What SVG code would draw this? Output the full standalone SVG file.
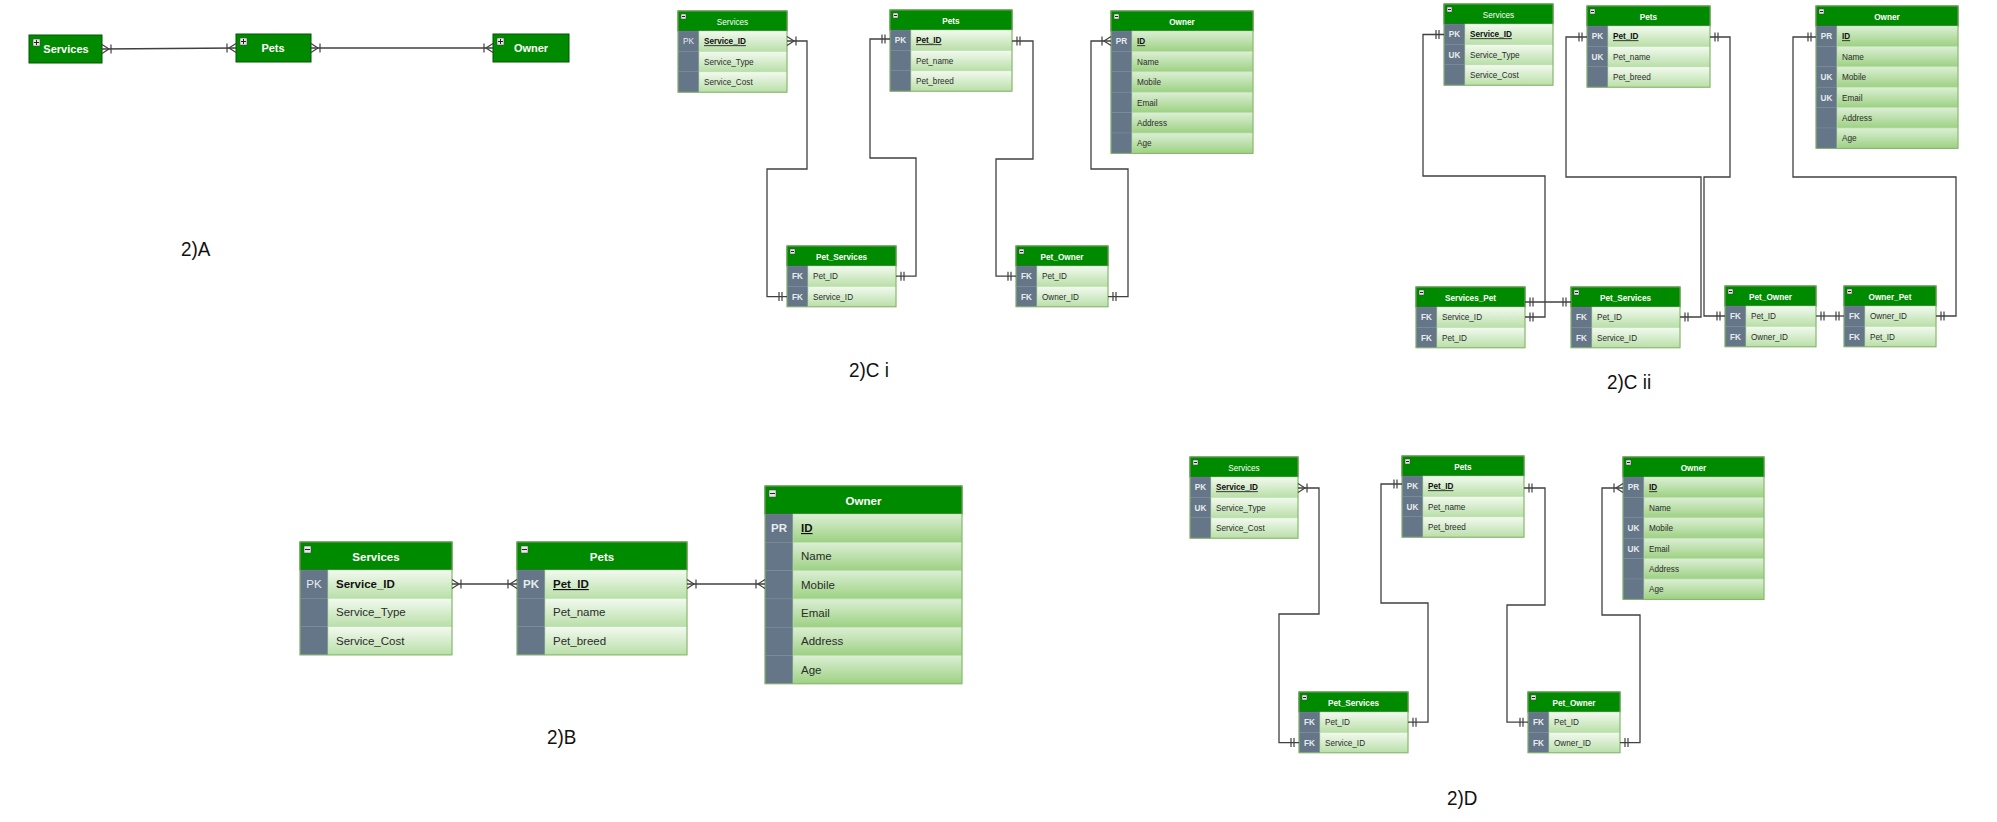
<svg xmlns="http://www.w3.org/2000/svg" width="1997" height="822" viewBox="0 0 1997 822">
<style>
text{font-family:"Liberation Sans",Arial,sans-serif}
.hd{fill:#008a00;stroke:#005700;stroke-width:1}
.ky{fill:#647687;stroke:#7b8a98;stroke-width:0.5}
.rw{fill:url(#gl);stroke:#b5dca4;stroke-width:0.6}
.ro{fill:url(#go);stroke:#b5dca4;stroke-width:0.6}
.ol{fill:none;stroke:#82b366;stroke-width:1}
.ic{fill:#e6e6e6;stroke:#444;stroke-width:0.5}
.im{stroke:#222;stroke-width:1;fill:none}
.s{font-size:8.2px}
.b{font-size:11.5px}
.ht{fill:#fff;font-weight:bold;text-anchor:middle}
.hn{fill:#fff;text-anchor:middle}
.kt{fill:#e8ecef;font-weight:bold;text-anchor:middle}
.kn{fill:#e8ecef;text-anchor:middle}
.ft{fill:#2b2b2b}
.pk{fill:#111;font-weight:bold;text-decoration:underline}
.bo{fill:#111;font-weight:bold}
.cn{fill:none;stroke:#404040;stroke-width:1.3}
.lb{font-size:21px;fill:#111}
.mk{fill:none;stroke:#404040;stroke-width:1.2}
</style>
<defs>
<linearGradient id="gl" x1="0" y1="0" x2="0" y2="1"><stop offset="0" stop-color="#f3faf0"/><stop offset="1" stop-color="#b9dfa8"/></linearGradient>
<linearGradient id="go" x1="0" y1="0" x2="0" y2="1"><stop offset="0" stop-color="#dcefd5"/><stop offset="1" stop-color="#9dd182"/></linearGradient>
<marker id="one" markerUnits="userSpaceOnUse" viewBox="-14 -7 16 14" markerWidth="16" markerHeight="14" refX="0" refY="0" orient="auto-start-reverse" overflow="visible"><path class="mk" d="M-5,-4.5V4.5M-8,-4.5V4.5"/></marker>
<marker id="many" markerUnits="userSpaceOnUse" viewBox="-14 -7 16 14" markerWidth="16" markerHeight="14" refX="0" refY="0" orient="auto-start-reverse" overflow="visible"><path class="mk" d="M0,-4.5L-7,0L0,4.5M-9,-4.5V4.5"/></marker>
</defs>
<rect width="1997" height="822" fill="#fff"/>

<!-- 2)A -->
<g id="a-services"><rect class="hd" x="29" y="35" width="73" height="28"/><rect class="ic" x="33" y="39" width="7" height="7"/><path class="im" d="M34,42.5H39M36.5,40V45"/><text class="ht" x="66" y="53" font-size="11">Services</text></g>
<g id="a-pets"><rect class="hd" x="236" y="34" width="75" height="28"/><rect class="ic" x="240" y="38" width="7" height="7"/><path class="im" d="M241,41.5H246M243.5,39V44"/><text class="ht" x="273" y="52" font-size="11">Pets</text></g>
<g id="a-owner"><rect class="hd" x="493" y="34" width="76" height="28"/><rect class="ic" x="497" y="38" width="7" height="7"/><path class="im" d="M498,41.5H503M500.5,39V44"/><text class="ht" x="531" y="52" font-size="11">Owner</text></g>

<!-- 2)C i -->
<g id="ci-services" transform="translate(678,11)">
<rect class="hd" width="109" height="20"/><rect class="ic" x="3" y="3" width="5" height="5"/><path class="im" d="M4,5.5H7"/><text class="hn s" x="54.5" y="13.5">Services</text>
<rect class="ky" y="20" width="21" height="20.4"/><rect class="rw" x="21" y="20" width="88" height="20.4"/><text class="kn s" x="10.5" y="33.3">PK</text><text class="pk s" x="26" y="33.3">Service_ID</text>
<rect class="ky" y="40.4" width="21" height="20.4"/><rect class="rw" x="21" y="40.4" width="88" height="20.4"/><text class="ft s" x="26" y="53.7">Service_Type</text>
<rect class="ky" y="60.8" width="21" height="20.4"/><rect class="rw" x="21" y="60.8" width="88" height="20.4"/><text class="ft s" x="26" y="74.1">Service_Cost</text>
<rect class="ol" width="109" height="81.2"/></g>
<g id="ci-pets" transform="translate(890,10)">
<rect class="hd" width="122" height="20"/><rect class="ic" x="3" y="3" width="5" height="5"/><path class="im" d="M4,5.5H7"/><text class="ht s" x="61" y="13.5">Pets</text>
<rect class="ky" y="20" width="21" height="20.4"/><rect class="rw" x="21" y="20" width="101" height="20.4"/><text class="kt s" x="10.5" y="33.3">PK</text><text class="pk s" x="26" y="33.3">Pet_ID</text>
<rect class="ky" y="40.4" width="21" height="20.4"/><rect class="rw" x="21" y="40.4" width="101" height="20.4"/><text class="ft s" x="26" y="53.7">Pet_name</text>
<rect class="ky" y="60.8" width="21" height="20.4"/><rect class="rw" x="21" y="60.8" width="101" height="20.4"/><text class="ft s" x="26" y="74.1">Pet_breed</text>
<rect class="ol" width="122" height="81.2"/></g>
<g id="ci-owner" transform="translate(1111,11)">
<rect class="hd" width="142" height="20"/><rect class="ic" x="3" y="3" width="5" height="5"/><path class="im" d="M4,5.5H7"/><text class="ht s" x="71" y="13.5">Owner</text>
<rect class="ky" y="20" width="21" height="20.4"/><rect class="ro" x="21" y="20" width="121" height="20.4"/><text class="kt s" x="10.5" y="33.3">PR</text><text class="pk s" x="26" y="33.3">ID</text>
<rect class="ky" y="40.4" width="21" height="20.4"/><rect class="ro" x="21" y="40.4" width="121" height="20.4"/><text class="ft s" x="26" y="53.7">Name</text>
<rect class="ky" y="60.8" width="21" height="20.4"/><rect class="ro" x="21" y="60.8" width="121" height="20.4"/><text class="ft s" x="26" y="74.1">Mobile</text>
<rect class="ky" y="81.2" width="21" height="20.4"/><rect class="ro" x="21" y="81.2" width="121" height="20.4"/><text class="ft s" x="26" y="94.5">Email</text>
<rect class="ky" y="101.6" width="21" height="20.4"/><rect class="ro" x="21" y="101.6" width="121" height="20.4"/><text class="ft s" x="26" y="114.9">Address</text>
<rect class="ky" y="122" width="21" height="20.4"/><rect class="ro" x="21" y="122" width="121" height="20.4"/><text class="ft s" x="26" y="135.3">Age</text>
<rect class="ol" width="142" height="142.4"/></g>
<g id="ci-pet-services" transform="translate(787,246)">
<rect class="hd" width="109" height="20"/><rect class="ic" x="3" y="3" width="5" height="5"/><path class="im" d="M4,5.5H7"/><text class="ht s" x="54.5" y="13.5">Pet_Services</text>
<rect class="ky" y="20" width="21" height="20.4"/><rect class="rw" x="21" y="20" width="88" height="20.4"/><text class="kt s" x="10.5" y="33.3">FK</text><text class="ft s" x="26" y="33.3">Pet_ID</text>
<rect class="ky" y="40.4" width="21" height="20.4"/><rect class="rw" x="21" y="40.4" width="88" height="20.4"/><text class="kt s" x="10.5" y="53.7">FK</text><text class="ft s" x="26" y="53.7">Service_ID</text>
<rect class="ol" width="109" height="60.8"/></g>
<g id="ci-pet-owner" transform="translate(1016,246)">
<rect class="hd" width="92" height="20"/><rect class="ic" x="3" y="3" width="5" height="5"/><path class="im" d="M4,5.5H7"/><text class="ht s" x="46" y="13.5">Pet_Owner</text>
<rect class="ky" y="20" width="21" height="20.4"/><rect class="rw" x="21" y="20" width="71" height="20.4"/><text class="kt s" x="10.5" y="33.3">FK</text><text class="ft s" x="26" y="33.3">Pet_ID</text>
<rect class="ky" y="40.4" width="21" height="20.4"/><rect class="rw" x="21" y="40.4" width="71" height="20.4"/><text class="kt s" x="10.5" y="53.7">FK</text><text class="ft s" x="26" y="53.7">Owner_ID</text>
<rect class="ol" width="92" height="60.8"/></g>

<!-- 2)C ii -->
<g id="cii-services" transform="translate(1444,4)">
<rect class="hd" width="109" height="20"/><rect class="ic" x="3" y="3" width="5" height="5"/><path class="im" d="M4,5.5H7"/><text class="hn s" x="54.5" y="13.5">Services</text>
<rect class="ky" y="20" width="21" height="20.4"/><rect class="rw" x="21" y="20" width="88" height="20.4"/><text class="kt s" x="10.5" y="33.3">PK</text><text class="pk s" x="26" y="33.3">Service_ID</text>
<rect class="ky" y="40.4" width="21" height="20.4"/><rect class="rw" x="21" y="40.4" width="88" height="20.4"/><text class="kt s" x="10.5" y="53.7">UK</text><text class="ft s" x="26" y="53.7">Service_Type</text>
<rect class="ky" y="60.8" width="21" height="20.4"/><rect class="rw" x="21" y="60.8" width="88" height="20.4"/><text class="ft s" x="26" y="74.1">Service_Cost</text>
<rect class="ol" width="109" height="81.2"/></g>
<g id="cii-pets" transform="translate(1587,6)">
<rect class="hd" width="123" height="20"/><rect class="ic" x="3" y="3" width="5" height="5"/><path class="im" d="M4,5.5H7"/><text class="ht s" x="61.5" y="13.5">Pets</text>
<rect class="ky" y="20" width="21" height="20.4"/><rect class="rw" x="21" y="20" width="102" height="20.4"/><text class="kt s" x="10.5" y="33.3">PK</text><text class="pk s" x="26" y="33.3">Pet_ID</text>
<rect class="ky" y="40.4" width="21" height="20.4"/><rect class="rw" x="21" y="40.4" width="102" height="20.4"/><text class="kt s" x="10.5" y="53.7">UK</text><text class="ft s" x="26" y="53.7">Pet_name</text>
<rect class="ky" y="60.8" width="21" height="20.4"/><rect class="rw" x="21" y="60.8" width="102" height="20.4"/><text class="ft s" x="26" y="74.1">Pet_breed</text>
<rect class="ol" width="123" height="81.2"/></g>
<g id="cii-owner" transform="translate(1816,6)">
<rect class="hd" width="142" height="20"/><rect class="ic" x="3" y="3" width="5" height="5"/><path class="im" d="M4,5.5H7"/><text class="ht s" x="71" y="13.5">Owner</text>
<rect class="ky" y="20" width="21" height="20.4"/><rect class="ro" x="21" y="20" width="121" height="20.4"/><text class="kt s" x="10.5" y="33.3">PR</text><text class="pk s" x="26" y="33.3">ID</text>
<rect class="ky" y="40.4" width="21" height="20.4"/><rect class="ro" x="21" y="40.4" width="121" height="20.4"/><text class="ft s" x="26" y="53.7">Name</text>
<rect class="ky" y="60.8" width="21" height="20.4"/><rect class="ro" x="21" y="60.8" width="121" height="20.4"/><text class="kt s" x="10.5" y="74.1">UK</text><text class="ft s" x="26" y="74.1">Mobile</text>
<rect class="ky" y="81.2" width="21" height="20.4"/><rect class="ro" x="21" y="81.2" width="121" height="20.4"/><text class="kt s" x="10.5" y="94.5">UK</text><text class="ft s" x="26" y="94.5">Email</text>
<rect class="ky" y="101.6" width="21" height="20.4"/><rect class="ro" x="21" y="101.6" width="121" height="20.4"/><text class="ft s" x="26" y="114.9">Address</text>
<rect class="ky" y="122" width="21" height="20.4"/><rect class="ro" x="21" y="122" width="121" height="20.4"/><text class="ft s" x="26" y="135.3">Age</text>
<rect class="ol" width="142" height="142.4"/></g>
<g id="cii-services-pet" transform="translate(1416,287)">
<rect class="hd" width="109" height="20"/><rect class="ic" x="3" y="3" width="5" height="5"/><path class="im" d="M4,5.5H7"/><text class="ht s" x="54.5" y="13.5">Services_Pet</text>
<rect class="ky" y="20" width="21" height="20.4"/><rect class="rw" x="21" y="20" width="88" height="20.4"/><text class="kt s" x="10.5" y="33.3">FK</text><text class="ft s" x="26" y="33.3">Service_ID</text>
<rect class="ky" y="40.4" width="21" height="20.4"/><rect class="rw" x="21" y="40.4" width="88" height="20.4"/><text class="kt s" x="10.5" y="53.7">FK</text><text class="ft s" x="26" y="53.7">Pet_ID</text>
<rect class="ol" width="109" height="60.8"/></g>
<g id="cii-pet-services" transform="translate(1571,287)">
<rect class="hd" width="109" height="20"/><rect class="ic" x="3" y="3" width="5" height="5"/><path class="im" d="M4,5.5H7"/><text class="ht s" x="54.5" y="13.5">Pet_Services</text>
<rect class="ky" y="20" width="21" height="20.4"/><rect class="rw" x="21" y="20" width="88" height="20.4"/><text class="kt s" x="10.5" y="33.3">FK</text><text class="ft s" x="26" y="33.3">Pet_ID</text>
<rect class="ky" y="40.4" width="21" height="20.4"/><rect class="rw" x="21" y="40.4" width="88" height="20.4"/><text class="kt s" x="10.5" y="53.7">FK</text><text class="ft s" x="26" y="53.7">Service_ID</text>
<rect class="ol" width="109" height="60.8"/></g>
<g id="cii-pet-owner" transform="translate(1725,286)">
<rect class="hd" width="91" height="20"/><rect class="ic" x="3" y="3" width="5" height="5"/><path class="im" d="M4,5.5H7"/><text class="ht s" x="45.5" y="13.5">Pet_Owner</text>
<rect class="ky" y="20" width="21" height="20.4"/><rect class="rw" x="21" y="20" width="70" height="20.4"/><text class="kt s" x="10.5" y="33.3">FK</text><text class="ft s" x="26" y="33.3">Pet_ID</text>
<rect class="ky" y="40.4" width="21" height="20.4"/><rect class="rw" x="21" y="40.4" width="70" height="20.4"/><text class="kt s" x="10.5" y="53.7">FK</text><text class="ft s" x="26" y="53.7">Owner_ID</text>
<rect class="ol" width="91" height="60.8"/></g>
<g id="cii-owner-pet" transform="translate(1844,286)">
<rect class="hd" width="92" height="20"/><rect class="ic" x="3" y="3" width="5" height="5"/><path class="im" d="M4,5.5H7"/><text class="ht s" x="46" y="13.5">Owner_Pet</text>
<rect class="ky" y="20" width="21" height="20.4"/><rect class="rw" x="21" y="20" width="71" height="20.4"/><text class="kt s" x="10.5" y="33.3">FK</text><text class="ft s" x="26" y="33.3">Owner_ID</text>
<rect class="ky" y="40.4" width="21" height="20.4"/><rect class="rw" x="21" y="40.4" width="71" height="20.4"/><text class="kt s" x="10.5" y="53.7">FK</text><text class="ft s" x="26" y="53.7">Pet_ID</text>
<rect class="ol" width="92" height="60.8"/></g>

<!-- 2)B -->
<g id="b-services" transform="translate(300,542)">
<rect class="hd" width="152" height="28"/><rect class="ic" x="4" y="4" width="7" height="7"/><path class="im" d="M5,7.5H10"/><text class="ht b" x="76" y="18.5">Services</text>
<rect class="ky" y="28" width="28" height="28.3"/><rect class="rw" x="28" y="28" width="124" height="28.3"/><text class="kn b" x="14" y="46">PK</text><text class="bo b" x="36" y="46">Service_ID</text>
<rect class="ky" y="56.3" width="28" height="28.3"/><rect class="rw" x="28" y="56.3" width="124" height="28.3"/><text class="ft b" x="36" y="74.3">Service_Type</text>
<rect class="ky" y="84.6" width="28" height="28.3"/><rect class="rw" x="28" y="84.6" width="124" height="28.3"/><text class="ft b" x="36" y="102.6">Service_Cost</text>
<rect class="ol" width="152" height="112.9"/></g>
<g id="b-pets" transform="translate(517,542)">
<rect class="hd" width="170" height="28"/><rect class="ic" x="4" y="4" width="7" height="7"/><path class="im" d="M5,7.5H10"/><text class="ht b" x="85" y="18.5">Pets</text>
<rect class="ky" y="28" width="28" height="28.3"/><rect class="rw" x="28" y="28" width="142" height="28.3"/><text class="kt b" x="14" y="46">PK</text><text class="pk b" x="36" y="46">Pet_ID</text>
<rect class="ky" y="56.3" width="28" height="28.3"/><rect class="rw" x="28" y="56.3" width="142" height="28.3"/><text class="ft b" x="36" y="74.3">Pet_name</text>
<rect class="ky" y="84.6" width="28" height="28.3"/><rect class="rw" x="28" y="84.6" width="142" height="28.3"/><text class="ft b" x="36" y="102.6">Pet_breed</text>
<rect class="ol" width="170" height="112.9"/></g>
<g id="b-owner" transform="translate(765,486)">
<rect class="hd" width="197" height="28"/><rect class="ic" x="4" y="4" width="7" height="7"/><path class="im" d="M5,7.5H10"/><text class="ht b" x="98.5" y="18.5">Owner</text>
<rect class="ky" y="28" width="28" height="28.3"/><rect class="ro" x="28" y="28" width="169" height="28.3"/><text class="kt b" x="14" y="46">PR</text><text class="pk b" x="36" y="46">ID</text>
<rect class="ky" y="56.3" width="28" height="28.3"/><rect class="ro" x="28" y="56.3" width="169" height="28.3"/><text class="ft b" x="36" y="74.3">Name</text>
<rect class="ky" y="84.6" width="28" height="28.3"/><rect class="ro" x="28" y="84.6" width="169" height="28.3"/><text class="ft b" x="36" y="102.6">Mobile</text>
<rect class="ky" y="112.9" width="28" height="28.3"/><rect class="ro" x="28" y="112.9" width="169" height="28.3"/><text class="ft b" x="36" y="130.9">Email</text>
<rect class="ky" y="141.2" width="28" height="28.3"/><rect class="ro" x="28" y="141.2" width="169" height="28.3"/><text class="ft b" x="36" y="159.2">Address</text>
<rect class="ky" y="169.5" width="28" height="28.3"/><rect class="ro" x="28" y="169.5" width="169" height="28.3"/><text class="ft b" x="36" y="187.5">Age</text>
<rect class="ol" width="197" height="197.8"/></g>

<!-- 2)D -->
<g id="d-services" transform="translate(1190,457)">
<rect class="hd" width="108" height="20"/><rect class="ic" x="3" y="3" width="5" height="5"/><path class="im" d="M4,5.5H7"/><text class="hn s" x="54" y="13.5">Services</text>
<rect class="ky" y="20" width="21" height="20.4"/><rect class="rw" x="21" y="20" width="87" height="20.4"/><text class="kt s" x="10.5" y="33.3">PK</text><text class="pk s" x="26" y="33.3">Service_ID</text>
<rect class="ky" y="40.4" width="21" height="20.4"/><rect class="rw" x="21" y="40.4" width="87" height="20.4"/><text class="kt s" x="10.5" y="53.7">UK</text><text class="ft s" x="26" y="53.7">Service_Type</text>
<rect class="ky" y="60.8" width="21" height="20.4"/><rect class="rw" x="21" y="60.8" width="87" height="20.4"/><text class="ft s" x="26" y="74.1">Service_Cost</text>
<rect class="ol" width="108" height="81.2"/></g>
<g id="d-pets" transform="translate(1402,456)">
<rect class="hd" width="122" height="20"/><rect class="ic" x="3" y="3" width="5" height="5"/><path class="im" d="M4,5.5H7"/><text class="ht s" x="61" y="13.5">Pets</text>
<rect class="ky" y="20" width="21" height="20.4"/><rect class="rw" x="21" y="20" width="101" height="20.4"/><text class="kt s" x="10.5" y="33.3">PK</text><text class="pk s" x="26" y="33.3">Pet_ID</text>
<rect class="ky" y="40.4" width="21" height="20.4"/><rect class="rw" x="21" y="40.4" width="101" height="20.4"/><text class="kt s" x="10.5" y="53.7">UK</text><text class="ft s" x="26" y="53.7">Pet_name</text>
<rect class="ky" y="60.8" width="21" height="20.4"/><rect class="rw" x="21" y="60.8" width="101" height="20.4"/><text class="ft s" x="26" y="74.1">Pet_breed</text>
<rect class="ol" width="122" height="81.2"/></g>
<g id="d-owner" transform="translate(1623,457)">
<rect class="hd" width="141" height="20"/><rect class="ic" x="3" y="3" width="5" height="5"/><path class="im" d="M4,5.5H7"/><text class="ht s" x="70.5" y="13.5">Owner</text>
<rect class="ky" y="20" width="21" height="20.4"/><rect class="ro" x="21" y="20" width="120" height="20.4"/><text class="kt s" x="10.5" y="33.3">PR</text><text class="pk s" x="26" y="33.3">ID</text>
<rect class="ky" y="40.4" width="21" height="20.4"/><rect class="ro" x="21" y="40.4" width="120" height="20.4"/><text class="ft s" x="26" y="53.7">Name</text>
<rect class="ky" y="60.8" width="21" height="20.4"/><rect class="ro" x="21" y="60.8" width="120" height="20.4"/><text class="kt s" x="10.5" y="74.1">UK</text><text class="ft s" x="26" y="74.1">Mobile</text>
<rect class="ky" y="81.2" width="21" height="20.4"/><rect class="ro" x="21" y="81.2" width="120" height="20.4"/><text class="kt s" x="10.5" y="94.5">UK</text><text class="ft s" x="26" y="94.5">Email</text>
<rect class="ky" y="101.6" width="21" height="20.4"/><rect class="ro" x="21" y="101.6" width="120" height="20.4"/><text class="ft s" x="26" y="114.9">Address</text>
<rect class="ky" y="122" width="21" height="20.4"/><rect class="ro" x="21" y="122" width="120" height="20.4"/><text class="ft s" x="26" y="135.3">Age</text>
<rect class="ol" width="141" height="142.4"/></g>
<g id="d-pet-services" transform="translate(1299,692)">
<rect class="hd" width="109" height="20"/><rect class="ic" x="3" y="3" width="5" height="5"/><path class="im" d="M4,5.5H7"/><text class="ht s" x="54.5" y="13.5">Pet_Services</text>
<rect class="ky" y="20" width="21" height="20.4"/><rect class="rw" x="21" y="20" width="88" height="20.4"/><text class="kt s" x="10.5" y="33.3">FK</text><text class="ft s" x="26" y="33.3">Pet_ID</text>
<rect class="ky" y="40.4" width="21" height="20.4"/><rect class="rw" x="21" y="40.4" width="88" height="20.4"/><text class="kt s" x="10.5" y="53.7">FK</text><text class="ft s" x="26" y="53.7">Service_ID</text>
<rect class="ol" width="109" height="60.8"/></g>
<g id="d-pet-owner" transform="translate(1528,692)">
<rect class="hd" width="92" height="20"/><rect class="ic" x="3" y="3" width="5" height="5"/><path class="im" d="M4,5.5H7"/><text class="ht s" x="46" y="13.5">Pet_Owner</text>
<rect class="ky" y="20" width="21" height="20.4"/><rect class="rw" x="21" y="20" width="71" height="20.4"/><text class="kt s" x="10.5" y="33.3">FK</text><text class="ft s" x="26" y="33.3">Pet_ID</text>
<rect class="ky" y="40.4" width="21" height="20.4"/><rect class="rw" x="21" y="40.4" width="71" height="20.4"/><text class="kt s" x="10.5" y="53.7">FK</text><text class="ft s" x="26" y="53.7">Owner_ID</text>
<rect class="ol" width="92" height="60.8"/></g>

<!-- connectors -->
<g id="connectors">
<path class="cn" d="M102,49L236,48" marker-start="url(#many)" marker-end="url(#many)"/>
<path class="cn" d="M311,48H493" marker-start="url(#many)" marker-end="url(#many)"/>

<path class="cn" d="M787,41H807V169H767V296.6H787" marker-start="url(#many)" marker-end="url(#one)"/>
<path class="cn" d="M890,39H870V158H916V276.2H896" marker-start="url(#one)" marker-end="url(#one)"/>
<path class="cn" d="M1012,41H1033V159H996V276.2H1016" marker-start="url(#one)" marker-end="url(#one)"/>
<path class="cn" d="M1111,41H1091V169H1128V296.6H1108" marker-start="url(#many)" marker-end="url(#one)"/>

<path class="cn" d="M1444,34.5H1423V176H1545V317H1525" marker-start="url(#one)" marker-end="url(#one)"/>
<path class="cn" d="M1525,302H1571" marker-start="url(#one)" marker-end="url(#one)"/>
<path class="cn" d="M1587,37H1566V177H1701V317H1680" marker-start="url(#one)" marker-end="url(#one)"/>
<path class="cn" d="M1710,37H1730V177H1704V316H1725" marker-start="url(#one)" marker-end="url(#one)"/>
<path class="cn" d="M1816,316H1844" marker-start="url(#one)" marker-end="url(#one)"/>
<path class="cn" d="M1816,37H1793V177H1956V316H1936" marker-start="url(#one)" marker-end="url(#one)"/>

<path class="cn" d="M452,584H517" marker-start="url(#many)" marker-end="url(#many)"/>
<path class="cn" d="M687,584H765" marker-start="url(#many)" marker-end="url(#many)"/>

<path class="cn" d="M1298,488H1319V614H1279V742.6H1299" marker-start="url(#many)" marker-end="url(#one)"/>
<path class="cn" d="M1402,484H1381V603H1428V722.2H1408" marker-start="url(#one)" marker-end="url(#one)"/>
<path class="cn" d="M1524,488H1545V605H1507V722.2H1528" marker-start="url(#one)" marker-end="url(#one)"/>
<path class="cn" d="M1623,488H1602V615H1640V742.6H1620" marker-start="url(#many)" marker-end="url(#one)"/>
</g>

<!-- section labels -->
<g id="labels">
<text class="lb" transform="translate(181,256) scale(0.9,1)">2)A</text>
<text class="lb" transform="translate(849,377) scale(0.9,1)">2)C i</text>
<text class="lb" transform="translate(1607,389) scale(0.9,1)">2)C ii</text>
<text class="lb" transform="translate(547,744) scale(0.9,1)">2)B</text>
<text class="lb" transform="translate(1447,805) scale(0.9,1)">2)D</text>
</g>
</svg>
